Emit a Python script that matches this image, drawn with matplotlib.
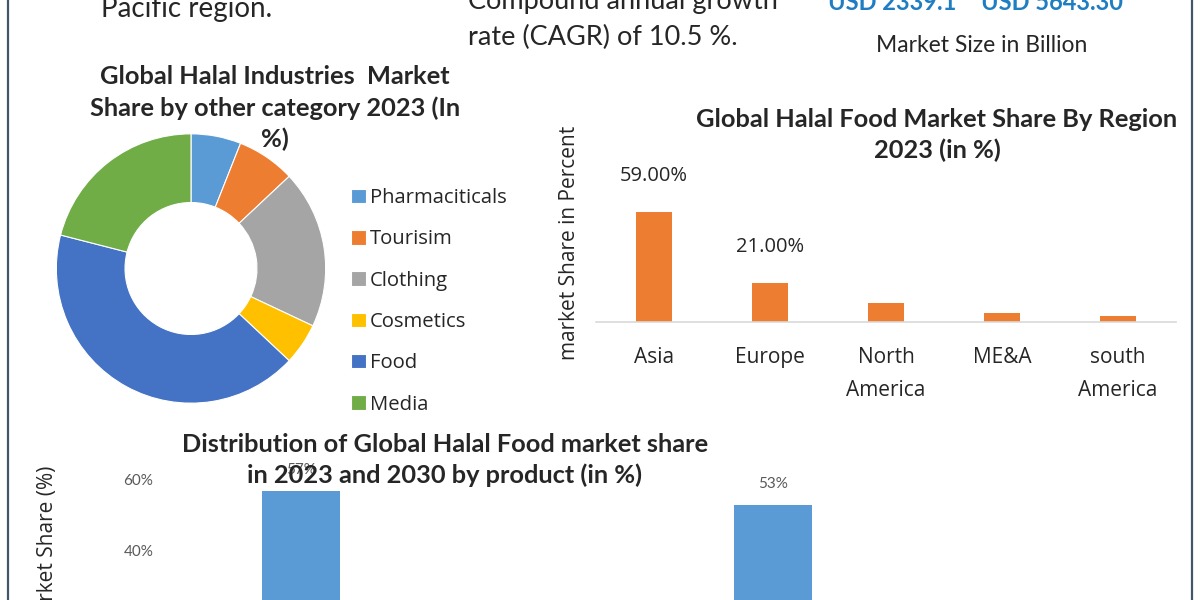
import matplotlib.pyplot as plt
from matplotlib.lines import Line2D

# donut data (share of other halal industries, 2023)
industries = ['Pharmaciticals', 'Tourisim', 'Clothing', 'Cosmetics', 'Food', 'Media']
industry_share = [6, 7, 19, 5, 42, 21]
industry_colors = ['#5B9BD5', '#ED7D31', '#A5A5A5', '#FFC000', '#4472C4', '#70AD47']

# regional bar data
regions = ['Asia', 'Europe', 'North\nAmerica', 'ME&A', 'south\nAmerica']
region_share = [59, 21, 10, 5, 3]
region_labels = ['59.00%', '21.00%', '', '', '']

# product bars (only the top part is visible)
products = ['2023', '2030']
product_share = [57, 53]

W, H = 1200, 600
def fx(x):
    return x / W
def fy(y):
    return 1 - y / H

fig = plt.figure(figsize=(12, 6), dpi=100)
fig.patch.set_facecolor('white')

txt = '#262626'
body = 'Lato'
sego = 'Open Sans'

# frame lines left / right
for x in (8, 1192):
    fig.add_artist(Line2D([fx(x), fx(x)], [0, 1], transform=fig.transFigure,
                          color='#44546A', lw=1.6))

# cut-off header text
fig.text(fx(187), fy(9), 'Pacific region.', ha='center', va='center',
         fontsize=20, family=body, color=txt)
fig.text(fx(468), fy(2), 'Compound annual growth', ha='left', va='center',
         fontsize=19.5, family=body, color=txt)
fig.text(fx(468), fy(37), 'rate (CAGR) of 10.5 %.', ha='left', va='center',
         fontsize=19.5, family=body, color=txt)
fig.text(fx(892), fy(3), 'USD 2339.1', ha='center', va='center',
         fontsize=17, family=body, weight='bold', color='#1F7DC1')
fig.text(fx(1052), fy(3), 'USD 5643.30', ha='center', va='center',
         fontsize=17, family=body, weight='bold', color='#1F7DC1')
fig.text(fx(982), fy(46), 'Market Size in Billion', ha='center', va='center',
         fontsize=16.5, family=body, color=txt)

# ---- donut ----
ax1 = fig.add_axes([fx(55), fy(405), 272 / W, 273 / H])
wedges, _ = ax1.pie(industry_share, colors=industry_colors, startangle=90,
                    counterclock=False, radius=1,
                    wedgeprops=dict(width=0.51, edgecolor='white', linewidth=0.8))
ax1.set_xlim(-1.01, 1.01)
ax1.set_ylim(-1.01, 1.01)
ax1.axis('off')

fig.text(fx(275), fy(108), 'Global Halal Industries  Market\nShare by other category 2023 (In\n%)',
         ha='center', va='center', fontsize=18.3, family=body, weight='bold',
         color=txt, linespacing=1.42)

fig.legend(wedges, industries, loc='upper left', bbox_to_anchor=(fx(341), fy(178)),
           frameon=False, prop={'family': sego, 'size': 14.6}, handlelength=0.72,
           handleheight=0.72, handletextpad=0.22, labelspacing=1.05, borderpad=0,
           labelcolor=txt)

# ---- region bars ----
ax2 = fig.add_axes([fx(596), fy(322), 580 / W, 192 / H])
xs = range(len(regions))
bars = ax2.bar(xs, region_share, width=0.31, color='#ED7D31')
ax2.set_xlim(-0.5, 4.5)
ax2.set_ylim(0, 103)
for b, lab in zip(bars, region_labels):
    if lab:
        ax2.text(b.get_x() + b.get_width() / 2, b.get_height() + 19.5, lab,
                 ha='center', va='center', fontsize=14.5, family=sego, color=txt)
ax2.set_xticks(list(xs))
ax2.set_xticklabels(regions, fontsize=15, family=sego, color=txt, linespacing=1.75)
ax2.tick_params(axis='x', length=0, pad=18)
ax2.set_yticks([])
for s in ('top', 'right', 'left'):
    ax2.spines[s].set_visible(False)
ax2.spines['bottom'].set_color('#D9D9D9')
ax2.spines['bottom'].set_linewidth(1.2)
ax2.set_ylabel('market Share in Percent', fontsize=15, family=sego, color=txt)
ax2.yaxis.set_label_coords(-0.028, 0.41)

fig.text(fx(937), fy(135), 'Global Halal Food Market Share By Region\n2023 (in %)',
         ha='center', va='center', fontsize=18.3, family=body, weight='bold',
         color=txt, linespacing=1.42)

# ---- product bars (cut at bottom) ----
ax3 = fig.add_axes([fx(170), fy(690), 735 / W, 240 / H])
px = range(len(products))
pbars = ax3.bar(px, product_share, width=78 / 472, color='#5B9BD5')
ax3.set_xlim(-131 / 472, 1 + 132 / 472)
ax3.set_ylim(0, 240 / 3.5)
ax3.bar_label(pbars, labels=[f'{v}%' for v in product_share], padding=10,
              fontsize=11, family=body, color='#595959')
ax3.set_yticks([0, 20, 40, 60])
ax3.yaxis.set_major_formatter(plt.FuncFormatter(lambda v, p: f'{v:.0f}%'))
for t in ax3.get_yticklabels():
    t.set_fontsize(11)
    t.set_family(body)
    t.set_color('#595959')
ax3.tick_params(axis='y', length=0, pad=12)
ax3.set_xticks([])
for s in ax3.spines.values():
    s.set_visible(False)
ax3.set_ylabel('Market Share (%)', fontsize=15, family=sego, color=txt)
ax3.yaxis.set_label_coords(-0.152, 0.59)

fig.text(fx(445), fy(460), 'Distribution of Global Halal Food market share\nin 2023 and 2030 by product (in %)',
         ha='center', va='center', fontsize=18.3, family=body, weight='bold',
         color=txt, linespacing=1.42)

fig.savefig('out.png', dpi=100, facecolor='white')
